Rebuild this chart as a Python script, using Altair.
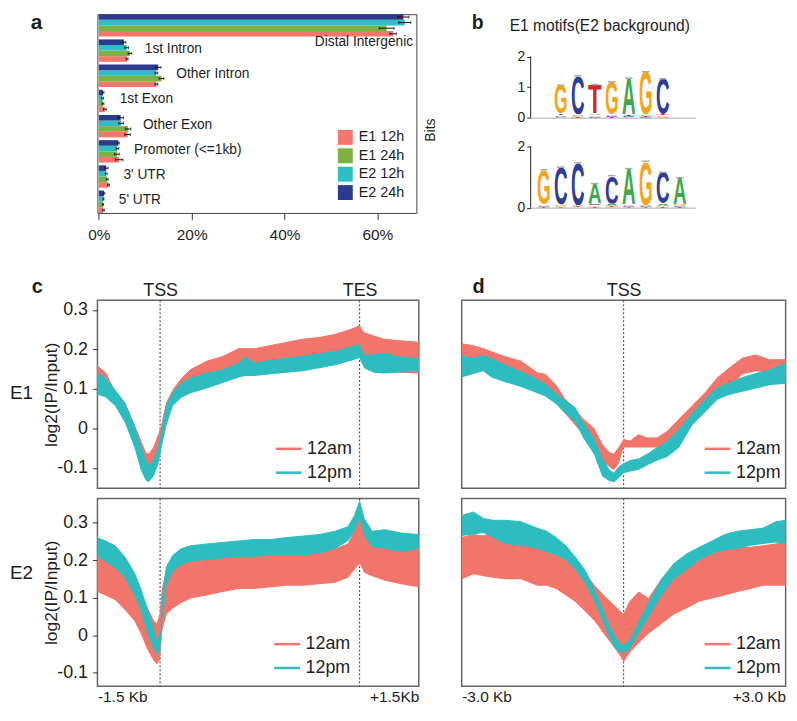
import urllib.parse
import altair as alt
import pandas as pd

FONT = "Liberation Sans"
INK = "#1e1e1e"

# ---------------- panel a : peak annotation ----------------
categories = ["Distal Intergenic", "1st Intron", "Other Intron", "1st Exon",
              "Other Exon", "Promoter (<=1kb)", "3' UTR", "5' UTR"]
groups = ["E1 12h", "E1 24h", "E2 12h", "E2 24h"]
group_colors = ["#F4766D", "#7CB23F", "#2EBEC3", "#2B3C8E"]
e1_12h = [63.4, 6.1, 12.4, 1.3, 6.2, 4.4, 2.1, 1.0]
e1_24h = [62.0, 6.7, 13.5, 0.9, 6.3, 3.9, 1.8, 0.9]
e2_12h = [65.9, 6.0, 12.4, 0.8, 4.8, 4.0, 1.6, 1.0]
e2_24h = [65.6, 5.4, 12.8, 0.9, 4.7, 4.2, 1.6, 1.1]
e1_12h_err = [0.7, 0.2, 0.3, 0.3, 0.6, 0.8, 0.2, 0.2]
e1_24h_err = [1.6, 0.4, 0.5, 0.2, 0.6, 0.5, 0.2, 0.1]
e2_12h_err = [1.3, 0.4, 0.3, 0.2, 0.5, 0.3, 0.2, 0.1]
e2_24h_err = [1.2, 0.4, 0.6, 0.2, 0.6, 0.2, 0.4, 0.2]

# ---------------- panel b : motif logos ----------------
motif1_letters = ["G", "C", "T", "G", "A", "G", "C"]
motif1_bits = [0.93, 1.27, 0.95, 1.06, 1.19, 1.41, 1.15]
motif1_minor = [["A", "C", "T"], ["T", "G", "A"], ["C", "A", "G"], ["T", "C", "A"],
                ["G", "C", "T"], ["C", "T", "A"], ["A", "G", "T"]]
motif1_minor_bits = [[0.03, 0.04, 0.06], [0.02, 0.03, 0.05], [0.03, 0.04, 0.06], [0.02, 0.04, 0.05],
                     [0.02, 0.03, 0.05], [0.02, 0.03, 0.04], [0.03, 0.04, 0.05]]
motif1_start = 2
motif2_letters = ["G", "C", "C", "A", "C", "A", "G", "C", "A"]
motif2_bits = [1.12, 1.23, 1.38, 0.65, 0.92, 1.18, 1.43, 1.03, 0.85]
motif2_minor = [["T", "C", "A"], ["T", "A", "G"], ["G", "T", "A"], ["T", "G", "C"], ["G", "T", "A"],
                ["T", "C", "G"], ["T", "C", "A"], ["T", "G", "A"], ["T", "C", "G"]]
motif2_minor_bits = [[0.03, 0.04, 0.05], [0.02, 0.03, 0.05], [0.02, 0.03, 0.04], [0.03, 0.05, 0.06],
                     [0.03, 0.04, 0.06], [0.02, 0.03, 0.05], [0.02, 0.03, 0.04], [0.03, 0.04, 0.06],
                     [0.03, 0.04, 0.06]]
motif2_start = 1
letter_colors = {"A": "#3DA94A", "C": "#2E3E97", "G": "#F5A51C", "T": "#D4242B"}

# ---------------- panel c : scaled gene body (-1.5 Kb .. TSS .. TES .. +1.5Kb), x in % of width ----
c_tss, c_tes = 19.5, 81.6
c1_x = [0, 2.5, 5.5, 8.5, 11.5, 13.5, 15, 16, 17.5, 19, 20, 21.5, 23.5, 26, 29, 34, 39, 44, 46, 49,
        54, 59, 64, 69, 74, 79, 81.5, 83, 86, 89, 94, 100]
c1_am_hi = [0.158, 0.141, 0.093, 0.065, 0.008, -0.032, -0.061, -0.065, -0.048, -0.016, 0.008, 0.065,
            0.097, 0.125, 0.149, 0.170, 0.182, 0.202, 0.202, 0.202, 0.210, 0.218, 0.226, 0.230, 0.238,
            0.251, 0.260, 0.242, 0.234, 0.226, 0.222, 0.218]
c1_am_lo = [0.115, 0.097, 0.073, 0.040, -0.016, -0.065, -0.097, -0.105, -0.093, -0.057, -0.024, 0.040,
            0.085, 0.105, 0.117, 0.129, 0.133, 0.141, 0.145, 0.147, 0.152, 0.155, 0.160, 0.163, 0.170,
            0.178, 0.194, 0.166, 0.149, 0.144, 0.141, 0.139]
c1_pm_hi = [0.141, 0.129, 0.097, 0.065, 0.008, -0.040, -0.077, -0.093, -0.077, -0.040, 0.000, 0.061,
            0.093, 0.115, 0.129, 0.141, 0.149, 0.166, 0.182, 0.166, 0.174, 0.178, 0.184, 0.190, 0.196,
            0.208, 0.214, 0.186, 0.188, 0.192, 0.182, 0.178]
c1_pm_lo = [0.085, 0.079, 0.057, 0.016, -0.048, -0.105, -0.131, -0.136, -0.121, -0.089, -0.048, 0.008,
            0.057, 0.077, 0.089, 0.101, 0.115, 0.129, 0.133, 0.133, 0.137, 0.141, 0.145, 0.152, 0.160,
            0.171, 0.178, 0.152, 0.141, 0.139, 0.141, 0.145]
c2_x = [0, 2.5, 5.5, 8.5, 11.5, 13.5, 15.5, 17.5, 18.5, 19.5, 20.2, 21.5, 23.5, 26, 29, 34, 39, 44, 49,
        54, 59, 64, 69, 74, 78, 80, 81.6, 83, 85.5, 89.5, 94.5, 100]
c2_am_hi = [0.213, 0.204, 0.187, 0.170, 0.132, 0.106, 0.072, 0.038, 0.030, 0.055, 0.123, 0.174, 0.187,
            0.196, 0.200, 0.204, 0.209, 0.213, 0.213, 0.217, 0.217, 0.221, 0.226, 0.230, 0.243, 0.277,
            0.323, 0.277, 0.238, 0.230, 0.230, 0.234]
c2_am_lo = [0.115, 0.106, 0.094, 0.068, 0.038, 0.004, -0.038, -0.068, -0.077, -0.064, 0.013, 0.055,
            0.072, 0.085, 0.098, 0.106, 0.115, 0.123, 0.123, 0.128, 0.132, 0.132, 0.136, 0.140, 0.153,
            0.174, 0.191, 0.166, 0.157, 0.145, 0.136, 0.128]
c2_pm_hi = [0.260, 0.251, 0.238, 0.209, 0.166, 0.123, 0.072, 0.021, -0.013, 0.004, 0.106, 0.183, 0.213,
            0.230, 0.238, 0.243, 0.247, 0.251, 0.255, 0.255, 0.260, 0.264, 0.268, 0.277, 0.289, 0.319,
            0.357, 0.311, 0.277, 0.281, 0.272, 0.268]
c2_pm_lo = [0.209, 0.196, 0.179, 0.153, 0.106, 0.064, 0.004, -0.038, -0.051, -0.043, 0.038, 0.132,
            0.170, 0.187, 0.196, 0.200, 0.204, 0.209, 0.209, 0.213, 0.213, 0.213, 0.217, 0.230, 0.251,
            0.277, 0.311, 0.264, 0.234, 0.230, 0.221, 0.230]

# ---------------- panel d : TSS +/- 3 Kb, x in Kb ----------------
d_tss = 0
d1_x = [-3.0, -2.8, -2.6, -2.45, -2.2, -1.9, -1.6, -1.45, -1.25, -1.1, -0.9, -0.75, -0.55, -0.4, -0.27,
        -0.18, -0.09, 0, 0.12, 0.27, 0.44, 0.62, 0.8, 1.03, 1.27, 1.5, 1.74, 1.97, 2.2, 2.45, 2.7, 3.0]
d1_am_hi = [0.214, 0.210, 0.202, 0.194, 0.182, 0.170, 0.141, 0.137, 0.109, 0.077, 0.048, 0.024, 0.000,
            -0.040, -0.061, -0.065, -0.048, -0.028, -0.032, -0.016, -0.024, -0.024, -0.008, 0.024,
            0.057, 0.089, 0.129, 0.154, 0.178, 0.186, 0.174, 0.174]
d1_am_lo = [0.162, 0.154, 0.162, 0.158, 0.141, 0.129, 0.109, 0.097, 0.073, 0.040, 0.008, -0.016, -0.048,
            -0.081, -0.097, -0.105, -0.089, -0.048, -0.048, -0.048, -0.048, -0.048, -0.040, -0.024,
            0.008, 0.048, 0.081, 0.105, 0.137, 0.145, 0.141, 0.129]
d1_pm_hi = [0.186, 0.178, 0.186, 0.178, 0.162, 0.145, 0.125, 0.113, 0.089, 0.073, 0.053, 0.016, -0.024,
            -0.073, -0.105, -0.113, -0.097, -0.089, -0.081, -0.077, -0.065, -0.048, -0.032, 0.000,
            0.040, 0.073, 0.105, 0.117, 0.129, 0.139, 0.149, 0.166]
d1_pm_lo = [0.129, 0.137, 0.145, 0.129, 0.117, 0.105, 0.089, 0.081, 0.061, 0.040, 0.016, -0.024, -0.065,
            -0.121, -0.133, -0.136, -0.125, -0.113, -0.109, -0.105, -0.093, -0.081, -0.073, -0.048,
            0.008, 0.040, 0.073, 0.085, 0.093, 0.101, 0.109, 0.113]
d2_x = [-3.0, -2.78, -2.6, -2.43, -2.19, -1.9, -1.6, -1.43, -1.25, -1.07, -0.9, -0.72, -0.54, -0.37,
        -0.19, -0.07, 0, 0.11, 0.28, 0.46, 0.7, 0.93, 1.17, 1.4, 1.64, 1.87, 2.11, 2.35, 2.58, 2.82, 3.0]
d2_am_hi = [0.260, 0.268, 0.264, 0.272, 0.251, 0.251, 0.230, 0.221, 0.213, 0.204, 0.187, 0.166, 0.132,
            0.106, 0.081, 0.064, 0.055, 0.089, 0.115, 0.098, 0.149, 0.174, 0.191, 0.209, 0.217, 0.226,
            0.234, 0.234, 0.238, 0.243, 0.251]
d2_am_lo = [0.149, 0.162, 0.157, 0.153, 0.149, 0.149, 0.132, 0.132, 0.123, 0.106, 0.089, 0.064, 0.038,
            0.004, -0.030, -0.055, -0.072, -0.047, -0.021, 0.004, 0.030, 0.055, 0.072, 0.089, 0.098,
            0.106, 0.115, 0.123, 0.132, 0.132, 0.132]
d2_pm_hi = [0.319, 0.328, 0.311, 0.306, 0.306, 0.302, 0.285, 0.277, 0.260, 0.238, 0.209, 0.174, 0.123,
            0.064, 0.004, -0.021, -0.026, -0.013, 0.038, 0.089, 0.149, 0.191, 0.217, 0.234, 0.251,
            0.268, 0.277, 0.281, 0.285, 0.302, 0.306]
d2_pm_lo = [0.264, 0.268, 0.272, 0.260, 0.243, 0.238, 0.230, 0.221, 0.213, 0.200, 0.174, 0.140, 0.089,
            0.030, -0.030, -0.047, -0.047, -0.038, 0.004, 0.047, 0.106, 0.149, 0.174, 0.200, 0.217,
            0.226, 0.230, 0.238, 0.243, 0.247, 0.243]

series_names = ["12am", "12pm"]
series_colors = ["#F1756B", "#2DBDC1"]
e1_domain = [-0.151, 0.324]
e2_domain = [-0.136, 0.364]
y_ticks = [-0.1, 0, 0.1, 0.2, 0.3]
row_labels = ["E1", "E2"]
row_label_values = [0.09, 0.165]

PROFILE_H = 189
INDEP = dict(color="independent", stroke="independent", fill="independent")

# ======================= panel a =======================
rows = []
for g, vals, errs in zip(groups, [e1_12h, e1_24h, e2_12h, e2_24h],
                         [e1_12h_err, e1_24h_err, e2_12h_err, e2_24h_err]):
    for c, v, e in zip(categories, vals, errs):
        rows.append({"category": c, "series": g, "value": v, "lo": v - e, "hi": v + e})
df_a = pd.DataFrame(rows)
df_lab = df_a.groupby("category", sort=False)["value"].max().reset_index().rename(columns={"value": "top"})

offset_order = ["E2 24h", "E2 12h", "E1 24h", "E1 12h"]


def xa(field):
    return alt.X(f"{field}:Q", title=None,
                 scale=alt.Scale(domain=[-0.3, 68.4], nice=False, zero=False),
                 axis=alt.Axis(values=[0, 20, 40, 60], labelExpr="datum.value + '%'", grid=False,
                               domain=False, tickSize=6.5, tickColor="#333", labelPadding=8,
                               labelFontSize=15.5))


y_a = alt.Y("category:N", sort=categories, title="a",
            scale=alt.Scale(domain=categories, paddingInner=0.11, paddingOuter=0.0),
            axis=alt.Axis(labels=False, ticks=False, domain=False, grid=False, minExtent=89,
                          titleX=-67.6, titleY=14.3, titleAngle=0, titleAlign="left",
                          titleBaseline="alphabetic", titleFontSize=21, titleFontWeight="bold"))
yo_a = alt.YOffset("series:N", sort=offset_order, scale=alt.Scale(domain=offset_order))
color_a = alt.Color("series:N", scale=alt.Scale(domain=groups, range=group_colors),
                    legend=alt.Legend(title=None, orient="none", legendX=242, legendY=116.5,
                                      symbolType="square", symbolSize=225, symbolStrokeWidth=0,
                                      labelFontSize=14.5, rowPadding=2.5, labelOffset=6, padding=0))

bars = alt.Chart(df_a).mark_bar().encode(x=xa("value"), x2=alt.datum(0), y=y_a, yOffset=yo_a, color=color_a)
err = alt.Chart(df_a).mark_rule(color="#111", strokeWidth=1).encode(x=xa("lo"), x2="hi:Q", y=y_a, yOffset=yo_a)
cap_lo = alt.Chart(df_a).mark_tick(color="#111", orient="vertical", size=3, thickness=1).encode(
    x=xa("lo"), y=y_a, yOffset=yo_a)
cap_hi = alt.Chart(df_a).mark_tick(color="#111", orient="vertical", size=3, thickness=1).encode(
    x=xa("hi"), y=y_a, yOffset=yo_a)
lab_rest = alt.Chart(df_lab).transform_filter("datum.category != 'Distal Intergenic'").transform_calculate(
    lx="datum.top + 3.2").mark_text(align="left", baseline="middle", fontSize=13.8, dy=-1.5,
                                    color=INK).encode(x=xa("lx"), y=y_a, text="category:N")
lab_distal = alt.Chart(df_lab).transform_filter("datum.category == 'Distal Intergenic'").transform_calculate(
    lx="datum.top + 1.8").mark_text(align="right", baseline="middle", fontSize=13.8, dy=17,
                                    color=INK).encode(x=xa("lx"), y=y_a, text="category:N")
panel_a = alt.layer(bars, err, cap_lo, cap_hi, lab_rest, lab_distal).properties(
    width=321, height=200, view=alt.ViewBackground(stroke="#444", strokeWidth=1))


# ======================= panel b =======================
def glyph_url(letter):
    svg = ("<svg xmlns='http://www.w3.org/2000/svg' width='100' height='100' viewBox='0 0 100 100' "
           "preserveAspectRatio='none'><text x='50' y='99' text-anchor='middle' "
           "font-family='Liberation Sans, Arial, sans-serif' font-weight='bold' font-size='140' "
           f"textLength='98' lengthAdjust='spacingAndGlyphs' fill='{letter_colors[letter]}'>{letter}</text></svg>")
    return "data:image/svg+xml;charset=utf-8," + urllib.parse.quote(svg)


def logo_frame(letters, bits, minor, minor_bits, start):
    rows, tops = [], []
    for i, (L, h, ml, mh) in enumerate(zip(letters, bits, minor, minor_bits)):
        pos = start + i
        base = 0.0
        for l2, h2 in zip(ml, mh):
            rows.append({"pos": pos, "letter": l2, "y0": base, "y1": base + h2})
            base += h2
        rows.append({"pos": pos, "letter": L, "y0": base, "y1": base + h})
        tops.append({"pos": pos, "top": base + h})
    df = pd.DataFrame(rows)
    df["url"] = df["letter"].map(glyph_url)
    return df, pd.DataFrame(tops)


LOGO_XDOM = [0.23, 9.93]


def logo_chart(letters, bits, minor, minor_bits, start, first):
    df, tops = logo_frame(letters, bits, minor, minor_bits, start)
    xs = alt.Scale(domain=LOGO_XDOM, nice=False, zero=False)
    if first:
        ydom, height = [0, 3.38], 104.1
        xax = alt.Axis(labels=False, ticks=False, grid=False, domain=True, domainColor="#c8c8c8",
                       domainWidth=1.5, title="b", titleX=-59.7, titleY=-89.8, titleAngle=0,
                       titleAlign="left", titleBaseline="alphabetic", titleFontSize=19.5,
                       titleFontWeight="bold")
        yax = alt.Axis(values=[0, 1, 2], format="d", tickSize=4, labelFontSize=14, labelPadding=2,
                       domain=False, tickColor="#222", grid=False, title="E1 motifs(E2 background)",
                       titleX=69.1, titleY=16.5, titleAngle=0, titleAlign="center",
                       titleBaseline="alphabetic", titleFontSize=15.7, titleFontWeight="normal")
    else:
        ydom, height = [0, 2], 61.6
        xax = alt.Axis(labels=False, ticks=False, grid=False, domain=True, domainColor="#c8c8c8",
                       domainWidth=1.5, title=None)
        yax = alt.Axis(values=[0, 1, 2], format="d", tickSize=4, labelFontSize=14, labelPadding=2,
                       domain=False, tickColor="#222", grid=False, title="Bits", titleX=-100.9,
                       titleY=-17.1, titleBaseline="middle", titleAlign="center", titleFontSize=14,
                       titleFontWeight="normal")
    ys = alt.Scale(domain=ydom, nice=False, zero=False)
    glyphs = alt.Chart(df).transform_calculate(xl="datum.pos - 0.41", xr="datum.pos + 0.41").mark_image(
        aspect=False).encode(
        x=alt.X("xl:Q", scale=xs, axis=xax), x2="xr:Q",
        y=alt.Y("y1:Q", scale=ys, axis=yax), y2="y0:Q", url="url:N")
    errs = alt.Chart(tops).transform_calculate(xl="datum.pos - 0.22", xr="datum.pos + 0.22").mark_rule(
        color="#aaaaaa", strokeWidth=1.5).encode(
        x=alt.X("xl:Q", scale=xs, axis=xax), x2="xr:Q", y=alt.Y("top:Q", scale=ys, axis=yax))
    axis_line = alt.Chart(pd.DataFrame({"lo": [0], "hi": [2]})).mark_rule(color="#222", strokeWidth=1).encode(
        x=alt.datum(LOGO_XDOM[0], scale=xs), y=alt.Y("lo:Q", scale=ys, axis=yax), y2="hi:Q")
    return alt.layer(glyphs, errs, axis_line).properties(width=166, height=height,
                                                        view=alt.ViewBackground(stroke="transparent"))


logo1 = logo_chart(motif1_letters, motif1_bits, motif1_minor, motif1_minor_bits, motif1_start, True)
logo2 = logo_chart(motif2_letters, motif2_bits, motif2_minor, motif2_minor_bits, motif2_start, False)


# ======================= panels c, d =======================
def band_frame(x, am_lo, am_hi, pm_lo, pm_hi):
    rows = []
    for s, lo, hi in [("12am", am_lo, am_hi), ("12pm", pm_lo, pm_hi)]:
        for xi, l, h in zip(x, lo, hi):
            rows.append({"x": xi, "lo": l, "hi": h, "series": s})
    return pd.DataFrame(rows)


def profile(df, marks, xdom, ydom, xaxis, show_y, lx, ly, width, row_label=None, row_value=None):
    xenc = alt.X("x:Q", scale=alt.Scale(domain=xdom, nice=False, zero=False), axis=xaxis, title=None)
    if show_y:
        yax = alt.Axis(values=y_ticks, labelExpr="'' + datum.value", tickSize=5, labelPadding=5,
                       labelFontSize=18, domain=False, grid=False, tickColor="#333",
                       title="log2(IP/Input)", titleFontSize=17.5, titleFontWeight="normal",
                       titleX=-46, titleBaseline="middle")
    else:
        yax = None
    yscale = alt.Scale(domain=ydom, nice=False, zero=False)
    yenc = alt.Y("hi:Q", scale=yscale, axis=yax)
    legend = alt.Legend(title=None, orient="none", legendX=lx, legendY=ly, symbolType="stroke",
                        symbolSize=676, symbolStrokeWidth=2.5, labelFontSize=18, labelOffset=4,
                        rowPadding=-3.5, padding=0)
    lines = alt.Chart(df).transform_calculate(sample="datum.series").mark_line(strokeWidth=1).encode(
        x=xenc, y=yenc,
        stroke=alt.Stroke("sample:N", scale=alt.Scale(domain=series_names, range=series_colors),
                          legend=legend))
    area = alt.Chart(df).mark_area(interpolate="linear", opacity=1).encode(
        x=xenc, y=yenc, y2="lo:Q",
        fill=alt.Fill("series:N", scale=alt.Scale(domain=series_names, range=series_colors), legend=None))
    rules = alt.Chart(pd.DataFrame({"x": marks})).mark_rule(
        color="#333", strokeWidth=1, strokeDash=[2, 2]).encode(x=xenc)
    layers = [rules, lines, area]
    if row_label is not None:
        lab = alt.Chart(pd.DataFrame({"label": [row_label], "v": [row_value]})).mark_text(
            align="left", baseline="middle", fontSize=19, color=INK).encode(
            text="label:N", x=alt.value(-88), y=alt.Y("v:Q", scale=yscale, axis=yax))
        layers.append(lab)
    return alt.layer(*layers).properties(width=width, height=PROFILE_H,
                                         view=alt.ViewBackground(stroke="#666", strokeWidth=1.5))


def top_axis(values, names, letter, letter_x):
    expr = " : ".join([f"datum.value == {v} ? '{n}'" for v, n in zip(values, names)]) + " : ''"
    return alt.Axis(orient="top", values=values, labelExpr=expr, ticks=False, domain=False, grid=False,
                    labelFontSize=18, labelPadding=5, labelBaseline="alphabetic",
                    title=letter, titleX=letter_x, titleY=-8.1, titleAngle=0, titleAlign="left",
                    titleBaseline="alphabetic", titleFontSize=20, titleFontWeight="bold")


def bottom_axis(values, names):
    expr = f"datum.value < {sum(values) / 2} ? '{names[0]}' : '{names[1]}'"
    return alt.Axis(orient="bottom", values=values, labelExpr=expr, labelFlush=True, ticks=False,
                    domain=False, grid=False, labelFontSize=15.5, labelPadding=3)


df_c1 = band_frame(c1_x, c1_am_lo, c1_am_hi, c1_pm_lo, c1_pm_hi)
df_c2 = band_frame(c2_x, c2_am_lo, c2_am_hi, c2_pm_lo, c2_pm_hi)
df_d1 = band_frame(d1_x, d1_am_lo, d1_am_hi, d1_pm_lo, d1_pm_hi)
df_d2 = band_frame(d2_x, d2_am_lo, d2_am_hi, d2_pm_lo, d2_pm_hi)

c1 = profile(df_c1, [c_tss, c_tes], [0, 100], e1_domain,
             top_axis([c_tss, c_tes], ["TSS", "TES"], "c", -66.6), True, 178, 134.9, 323.4,
             row_labels[0], row_label_values[0])
c2 = profile(df_c2, [c_tss, c_tes], [0, 100], e2_domain,
             bottom_axis([0, 100], ["-1.5 Kb", "+1.5Kb"]), True, 176.4, 132.1, 323.4,
             row_labels[1], row_label_values[1])
d1 = profile(df_d1, [d_tss], [-3, 3], e1_domain,
             top_axis([d_tss], ["TSS"], "d", 10.4), False, 243, 134.9, 326)
d2 = profile(df_d2, [d_tss], [-3, 3], e2_domain,
             bottom_axis([-3, 3], ["-3.0 Kb", "+3.0 Kb"]), False, 243, 132.1, 326)

b_v = alt.vconcat(logo1, logo2, spacing=28.2, bounds="flush").resolve_scale(**INDEP)
top = alt.hconcat(panel_a, b_v, spacing=5).resolve_scale(**INDEP)
c_v = alt.vconcat(c1, c2, spacing=10.4, bounds="flush").resolve_scale(**INDEP)
d_v = alt.vconcat(d1, d2, spacing=10.4, bounds="flush").resolve_scale(**INDEP)
bottom = alt.hconcat(c_v, d_v, spacing=36.6).resolve_scale(**INDEP)

chart = alt.vconcat(top, bottom, spacing=32).resolve_scale(**INDEP).properties(padding=0).configure(
    font=FONT).configure_axis(labelFont=FONT, titleFont=FONT, labelColor=INK, titleColor=INK).configure_legend(
    labelFont=FONT, labelColor=INK).configure_title(font=FONT, color=INK)

chart.save("out.html", embed_options={"renderer": "svg", "actions": False})
